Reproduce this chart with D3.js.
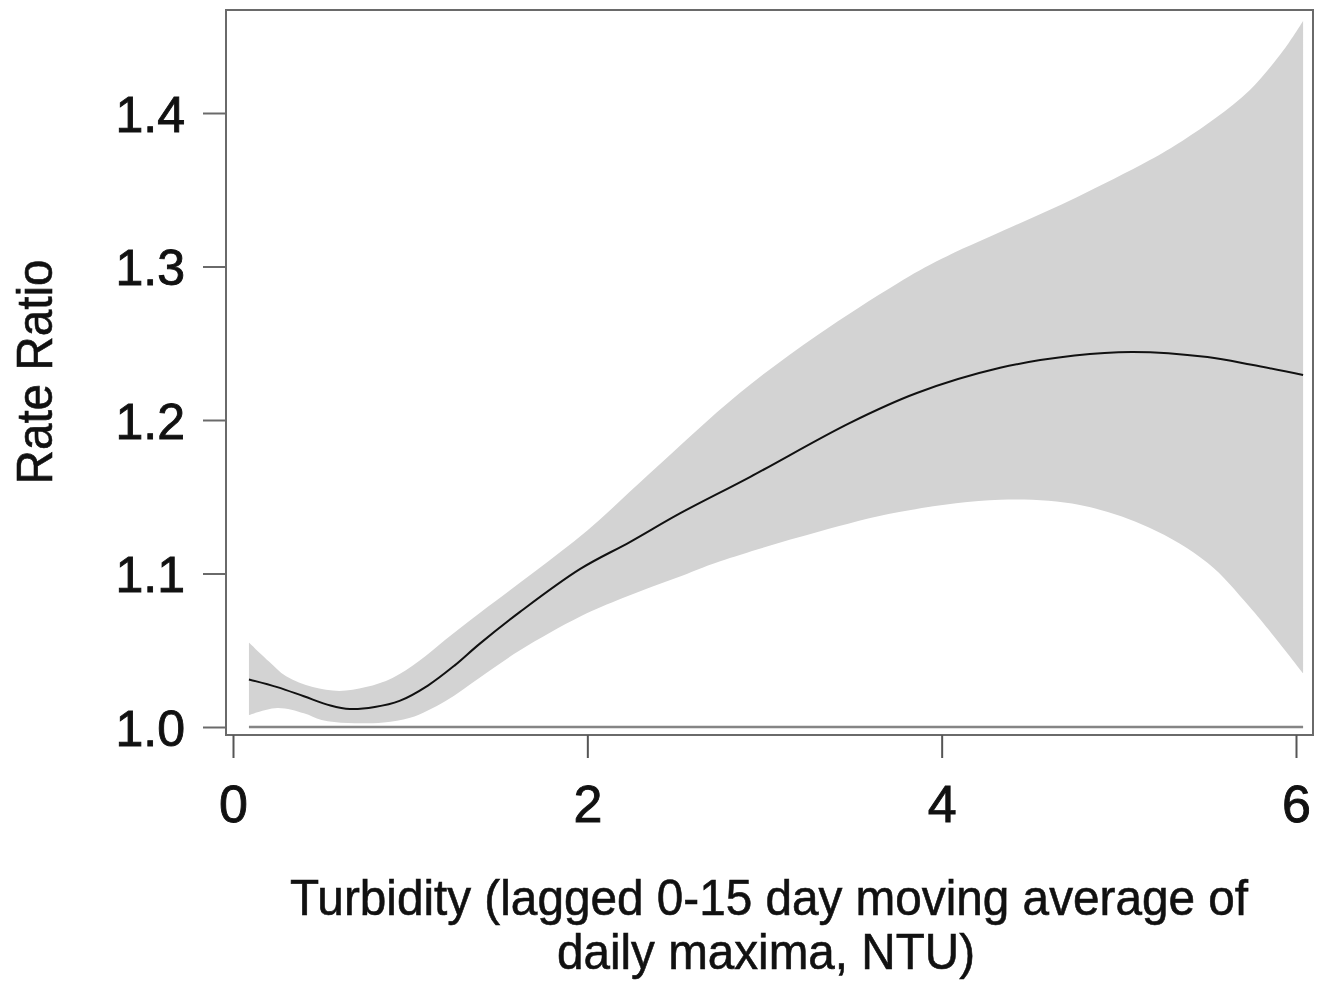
<!DOCTYPE html>
<html>
<head>
<meta charset="utf-8">
<script src="https://cdn.jsdelivr.net/npm/d3@7"></script>
<style>
  html, body { margin: 0; padding: 0; background: #fff; }
  svg { display: block; }
  text { font-family: "Liberation Sans", Arial, sans-serif; fill: #111; }
</style>
</head>
<body>
<svg id="chart" width="1323" height="984"></svg>
<script>
// ---- data ----
const lineX = [0.09, 0.25, 0.4, 0.55, 0.66, 0.8, 0.94, 1.1, 1.25, 1.39, 1.62, 1.96, 2.24, 2.52, 2.92, 3.48, 3.86, 4.33, 4.75, 5.08, 5.5, 5.75, 6.04];
const lineY = [1.031, 1.026, 1.020, 1.014, 1.0117, 1.013, 1.017, 1.027, 1.040, 1.054, 1.075, 1.103, 1.1205, 1.139, 1.163, 1.198, 1.2176, 1.234, 1.242, 1.2443, 1.241, 1.236, 1.2293];

const upperX = [0.09, 0.2, 0.3, 0.45, 0.6, 0.75, 0.9, 1.05, 1.2, 1.4, 1.7, 2.0, 2.35, 2.86, 3.3, 3.75, 4.0, 4.4, 4.76, 5.17, 5.36, 5.55, 5.74, 5.93, 6.04];
const upperY = [1.055, 1.043, 1.033, 1.026, 1.0235, 1.026, 1.032, 1.043, 1.057, 1.075, 1.101, 1.128, 1.165, 1.2176, 1.2554, 1.289, 1.305, 1.326, 1.345, 1.369, 1.382, 1.397, 1.415, 1.441, 1.46];

const lowerX = [0.09, 0.25, 0.4, 0.5, 0.65, 0.85, 1.0, 1.2, 1.39, 1.62, 1.96, 2.2, 2.5, 2.75, 3.3, 3.76, 4.33, 4.78, 5.17, 5.5, 5.74, 6.04];
const lowerY = [1.0078, 1.0124, 1.009, 1.0046, 1.0026, 1.003, 1.006, 1.017, 1.032, 1.050, 1.072, 1.084, 1.097, 1.108, 1.127, 1.140, 1.148, 1.1446, 1.130, 1.107, 1.078, 1.035];

const refValue = 1.0;
const xTicks = [0, 2, 4, 6];
const xTickLabels = ["0", "2", "4", "6"];
const yTicks = [1.0, 1.1, 1.2, 1.3, 1.4];
const yTickLabels = ["1.0", "1.1", "1.2", "1.3", "1.4"];
const xTitle1 = "Turbidity (lagged 0-15 day moving average of";
const xTitle2 = "daily maxima, NTU)";
const yTitle = "Rate Ratio";

// ---- layout ----
const svg = d3.select("#chart");
const box = { left: 226, top: 10, right: 1313, bottom: 735 };
const x = d3.scaleLinear().domain([0, 6]).range([233, 1296]);
const y = d3.scaleLinear().domain([1.0, 1.4]).range([727, 113]);

// band
const upperPts = upperX.map((v, i) => [x(v), y(upperY[i])]);
const lowerPts = lowerX.map((v, i) => [x(v), y(lowerY[i])]).reverse();
const curveLine = d3.line().curve(d3.curveCatmullRom.alpha(0.5));
const bandPath = curveLine(upperPts) + "L" + curveLine(lowerPts).slice(1) + "Z";
svg.append("path").attr("d", bandPath).attr("fill", "#d3d3d3").attr("stroke", "none");

// reference line at 1.0
svg.append("line")
  .attr("x1", x(lineX[0])).attr("x2", x(lineX[lineX.length - 1]))
  .attr("y1", y(refValue)).attr("y2", y(refValue))
  .attr("stroke", "#858585").attr("stroke-width", 2.5);

// estimate line
svg.append("path")
  .attr("d", d3.line().x((d, i) => x(lineX[i])).y(d => y(d)).curve(d3.curveCatmullRom.alpha(0.5))(lineY))
  .attr("fill", "none").attr("stroke", "#111").attr("stroke-width", 2);

// frame
svg.append("rect")
  .attr("x", box.left).attr("y", box.top)
  .attr("width", box.right - box.left).attr("height", box.bottom - box.top)
  .attr("fill", "none").attr("stroke", "#6a6a6a").attr("stroke-width", 2);

// y axis
const yAxis = svg.append("g").attr("transform", `translate(${box.left},0)`)
  .call(d3.axisLeft(y).tickValues(yTicks).tickSize(23).tickPadding(18)
    .tickFormat((d, i) => yTickLabels[i]));
yAxis.select(".domain").remove();
yAxis.selectAll(".tick line").attr("stroke", "#6a6a6a").attr("stroke-width", 2);
yAxis.selectAll(".tick text").attr("font-size", 50).attr("fill", "#111")
  .attr("stroke", "#111").attr("stroke-width", 0.9)
  .attr("font-family", "'Liberation Sans', Arial, sans-serif").attr("dy", "0.36em");

// x axis
const xAxis = svg.append("g").attr("transform", `translate(0,${box.bottom})`)
  .call(d3.axisBottom(x).tickValues(xTicks).tickSize(23).tickPadding(27)
    .tickFormat((d, i) => xTickLabels[i]));
xAxis.select(".domain").remove();
xAxis.selectAll(".tick line").attr("stroke", "#555").attr("stroke-width", 2);
xAxis.selectAll(".tick text").attr("font-size", 52).attr("fill", "#111")
  .attr("stroke", "#111").attr("stroke-width", 0.9)
  .attr("font-family", "'Liberation Sans', Arial, sans-serif").attr("dy", "0.71em");

// titles
svg.append("text").attr("x", 769).attr("y", 915).attr("text-anchor", "middle")
  .attr("font-size", 50).attr("textLength", 958).attr("lengthAdjust", "spacingAndGlyphs")
  .attr("stroke", "#111").attr("stroke-width", 0.6)
  .text(xTitle1);
svg.append("text").attr("x", 766).attr("y", 969).attr("text-anchor", "middle")
  .attr("font-size", 50).attr("textLength", 418).attr("lengthAdjust", "spacingAndGlyphs")
  .attr("stroke", "#111").attr("stroke-width", 0.6)
  .text(xTitle2);
svg.append("text").attr("transform", "translate(52,372) rotate(-90)").attr("text-anchor", "middle")
  .attr("font-size", 50).attr("textLength", 225).attr("lengthAdjust", "spacingAndGlyphs")
  .attr("stroke", "#111").attr("stroke-width", 0.6)
  .text(yTitle);
</script>
</body>
</html>
